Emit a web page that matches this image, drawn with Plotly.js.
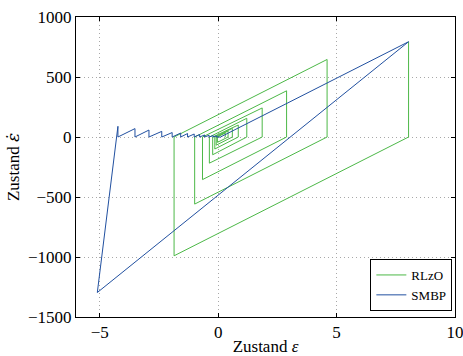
<!DOCTYPE html>
<html>
<head>
<meta charset="utf-8">
<script src="https://cdn.plot.ly/plotly-3.0.1.min.js"></script>
<style>html,body{margin:0;padding:0;background:#fff;}#chart{width:463px;height:356px;}</style>
</head>
<body>
<div id="chart"></div>
<script>
// RLzO trajectory (state epsilon, state epsilon-dot)
const rlzoX = [8.04, 8.04, -1.86, -1.86, 4.60, 4.60, -0.99, -0.99, 2.89, 2.89, -0.66, -0.66, 1.86, 1.86, -0.37, -0.37, 1.21, 1.21, -0.23, -0.23, 0.85, 0.85, -0.14, -0.14, 0.60, 0.60, -0.08, -0.08, 0.42, 0.42, -0.03, -0.03, 0.30, 0.30];
const rlzoY = [794, 0, -990, 0, 646, 0, -559, 0, 385, 0, -355, 0, 242, 0, -218, 0, 156, 0, -148, 0, 100, 0, -100, 0, 72, 0, -68, 0, 50, 0, -45, 0, 33, 0];

// SMBP trajectory
const smbpX = [8.04, -5.10, -4.23, -4.23, -3.51, -3.51, -2.92, -2.92, -2.38, -2.38, -1.94, -1.94, -1.58, -1.58, -1.29, -1.29, -1.01, -1.01, -0.78, -0.78, -0.57, -0.57, -0.38, -0.38, -0.21, -0.21, -0.06, -0.06, 0.10, 8.04];
const smbpY = [794, -1296, 89, 0, 70, 0, 58, 0, 47, 0, 37, 0, 33, 0, 29, 0, 25, 0, 21, 0, 17, 0, 14, 0, 12, 0, 10, 0, 0, 794];

const xTicks = [-5, 0, 5, 10];
const yTicks = [-1500, -1000, -500, 0, 500, 1000];

const serif = 'Liberation Serif, Times New Roman, serif';

const traces = [
  {x: rlzoX, y: rlzoY, name: 'RLzO', type: 'scatter', mode: 'lines',
   line: {color: '#4cb847', width: 1}},
  {x: smbpX, y: smbpY, name: 'SMBP', type: 'scatter', mode: 'lines',
   line: {color: '#2150a0', width: 1}}
];

const axisCommon = {
  showline: true, linecolor: '#000', linewidth: 1, mirror: 'ticks',
  ticks: 'inside', ticklen: 4, tickcolor: '#000',
  showgrid: true, gridcolor: '#a8a8a8', griddash: '1px,3px', gridwidth: 1,
  zeroline: false, ticklabeloverflow: 'allow',
  tickfont: {family: serif, size: 17, color: '#000'}
};

const layout = {
  width: 463, height: 356,
  margin: {l: 76, r: 8, t: 17, b: 39},
  paper_bgcolor: '#fff', plot_bgcolor: '#fff',
  showlegend: true,
  xaxis: Object.assign({}, axisCommon, {
    range: [-6, 10], tickvals: xTicks, ticktext: xTicks.map(v => v < 0 ? '\u2212' + Math.abs(v) : String(v)),
    title: {text: 'Zustand <i>ε</i>', font: {family: serif, size: 17, color: '#000'}, standoff: 0}
  }),
  yaxis: Object.assign({}, axisCommon, {
    range: [-1500, 1000], tickvals: yTicks, ticktext: yTicks.map(v => v < 0 ? '\u2212' + Math.abs(v) : String(v)),
    title: {text: 'Zustand <span style="font-family:DejaVu Serif;font-style:italic">ε\u0307</span>', font: {family: serif, size: 17, color: '#000'}, standoff: 4}
  }),
  legend: {
    x: 0.993, xanchor: 'right', y: 0.02, yanchor: 'bottom',
    bgcolor: '#fff', bordercolor: '#000', borderwidth: 1,
    font: {family: serif, size: 13, color: '#000'},
    itemwidth: 30, tracegroupgap: 0
  }
};

Plotly.newPlot('chart', traces, layout, {displayModeBar: false, staticPlot: true});
</script>
</body>
</html>
